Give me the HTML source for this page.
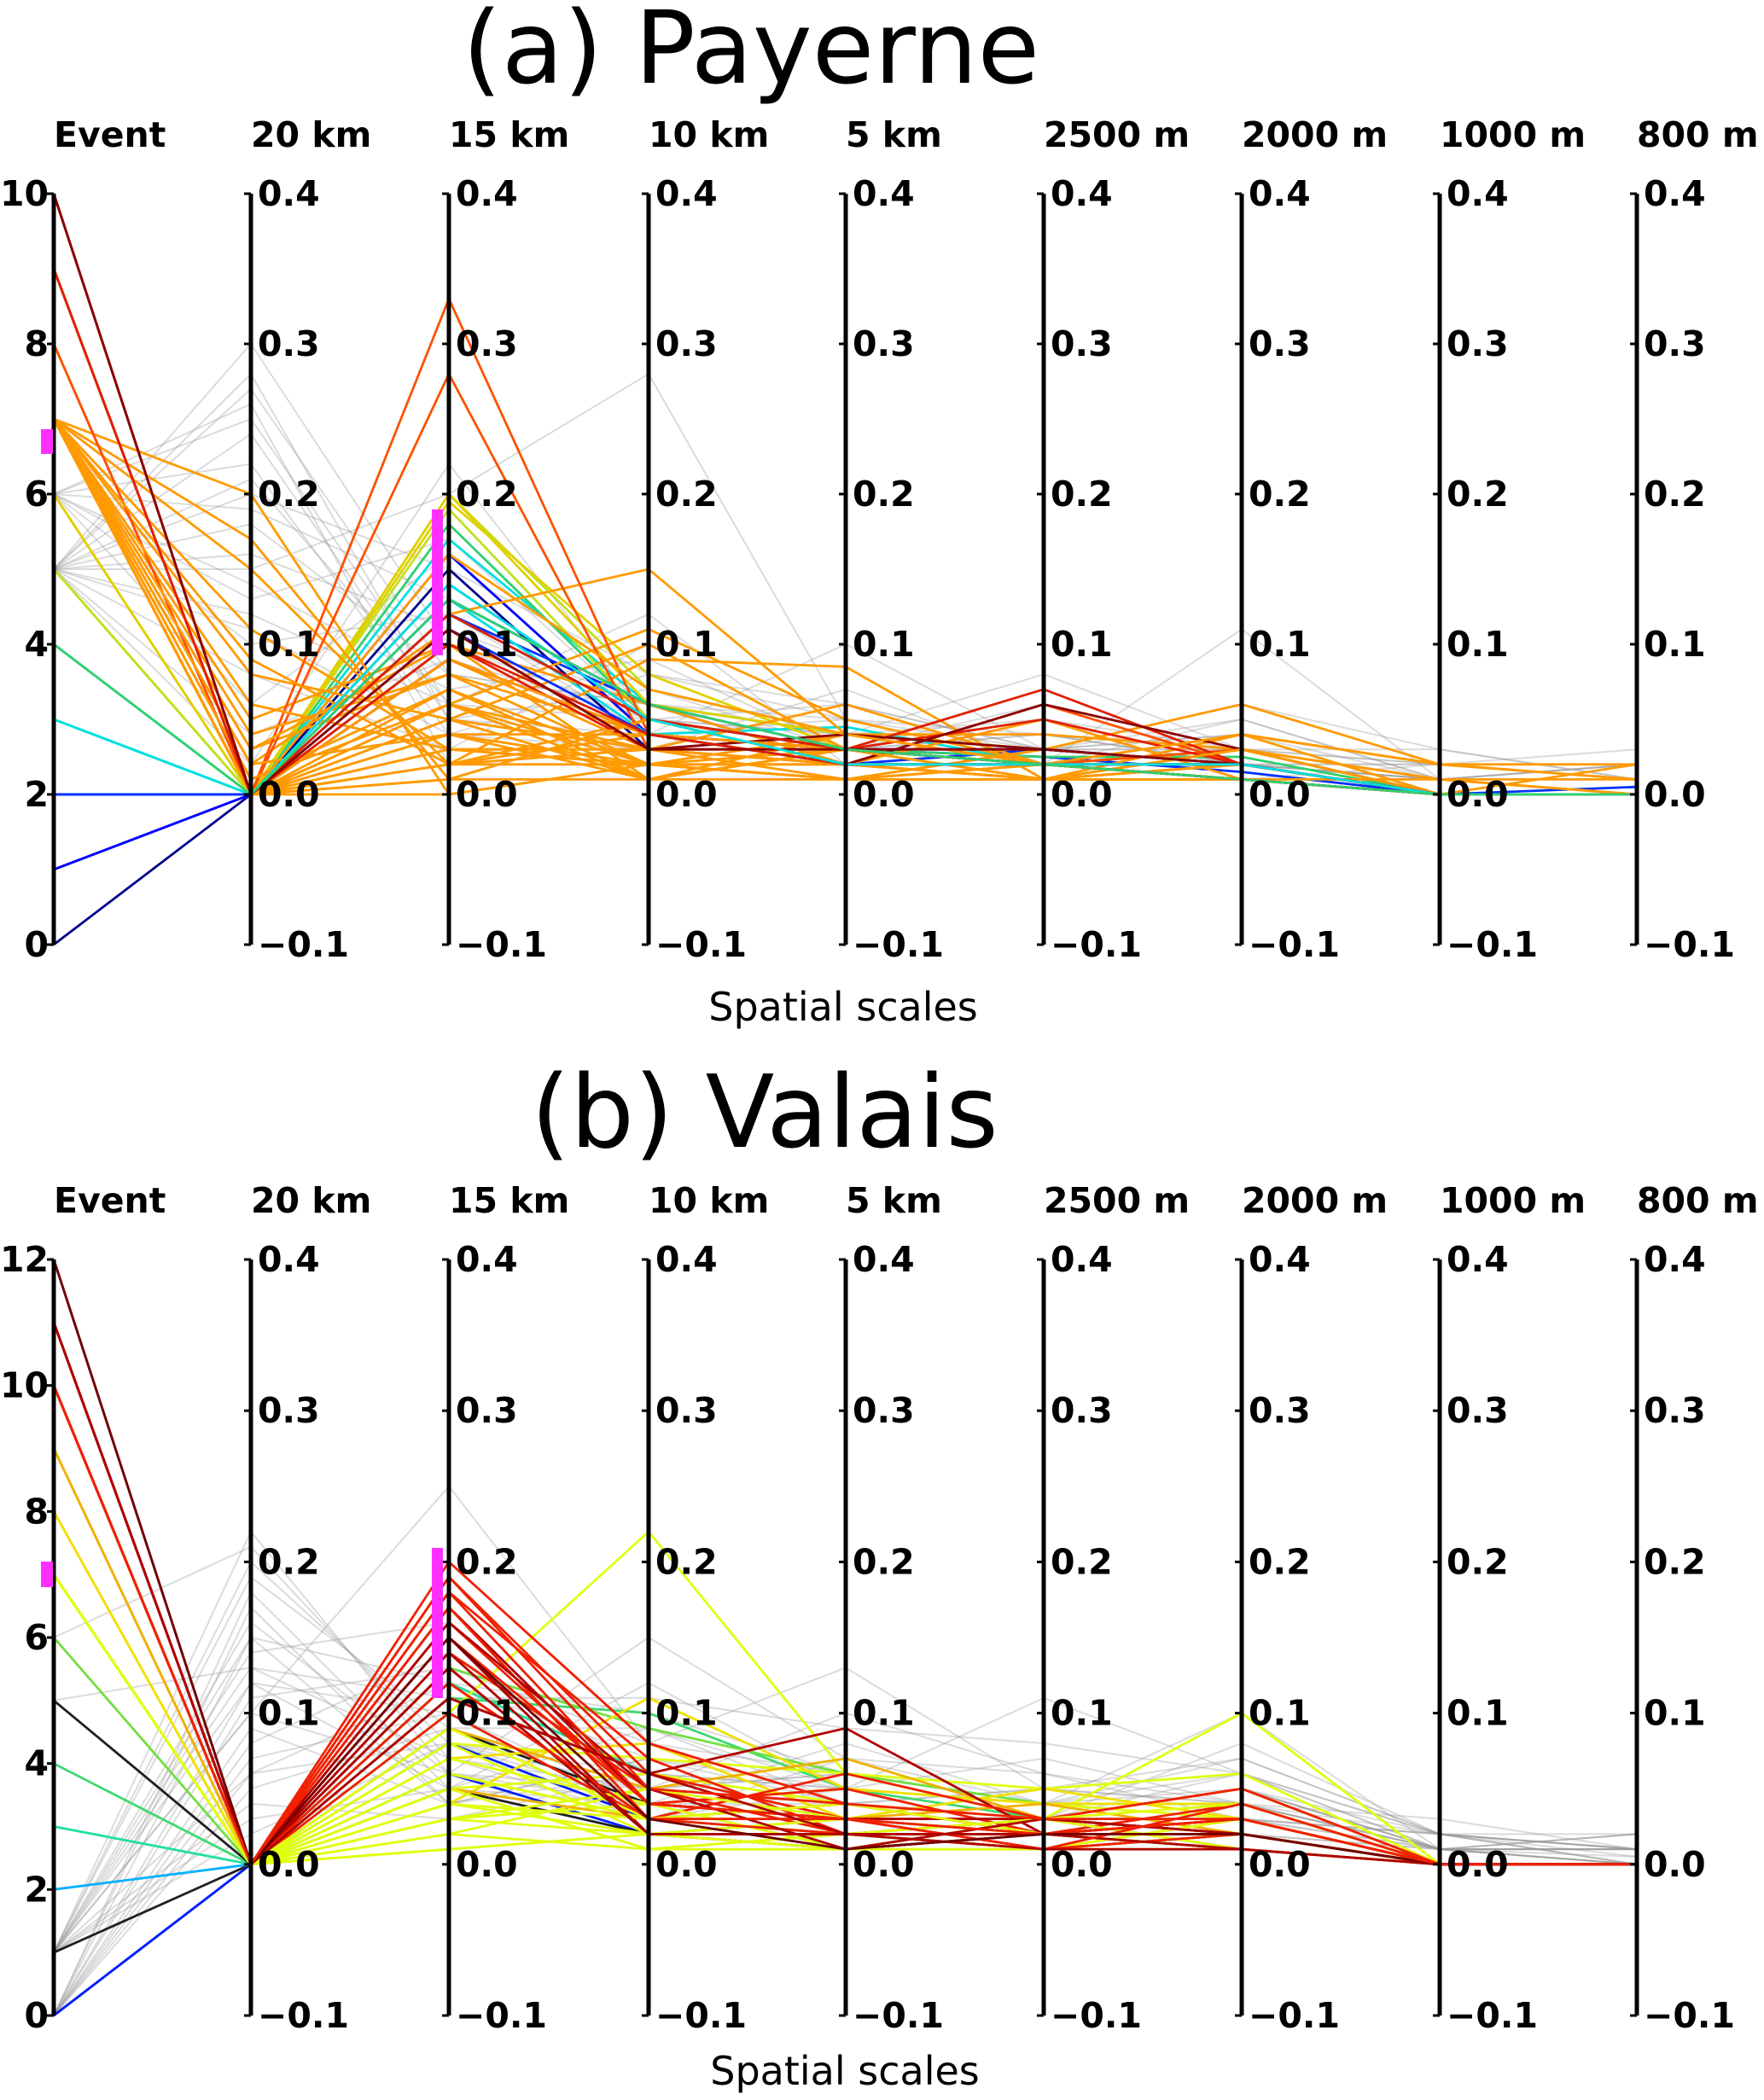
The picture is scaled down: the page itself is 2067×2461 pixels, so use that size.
<!DOCTYPE html>
<html><head><meta charset="utf-8">
<style>
html,body{margin:0;padding:0;background:#fff;}
svg{display:block;}
text{font-family:"DejaVu Sans","Liberation Sans",sans-serif;}
.tk{font-weight:bold;font-size:41px;fill:#000;}
.hd{font-weight:bold;font-size:41px;fill:#000;}
</style></head>
<body>
<svg id="chart" width="2067" height="2461" viewBox="0 0 2067 2461" xmlns="http://www.w3.org/2000/svg">
<text x="880" y="97" font-size="118" text-anchor="middle">(a) Payerne</text>
<text x="896" y="1344" font-size="118" text-anchor="middle">(b) Valais</text>
<text x="988" y="1196" font-size="46" text-anchor="middle">Spatial scales</text>
<text x="990" y="2443" font-size="46" text-anchor="middle">Spatial scales</text>
<g id="panelA"></g>
<g id="panelB"></g>
</svg>
<script>
// ---------- shared ----------
const scales = ["Event","20 km","15 km","10 km","5 km","2500 m","2000 m","1000 m","800 m"];
const valueTicks = [0.4,0.3,0.2,0.1,0.0,-0.1];
const eventTicksA = [0,2,4,6,8,10];
const eventTicksB = [0,2,4,6,8,10,12];

// ---------- Panel A (Payerne) colored lines ----------
const evA   = [0,1,2,2,3,3,4,5,5,6,6,7,7,7,7,7,7,7,7,7,7,7,7,7,7,7,7,7,8,8,9,9,10,10,7,7,
               7,7,7,7,7,7,7,7,7,7,7,7,7,7,7,7, 2,2,1,9,9,10,3,4];
const k20A  = [0,0,0,0,0,0,0,0,0,0,0,.20,.15,.11,.08,.05,.03,.02,.01,0,0,0,0,0,0,.17,0,0,0,0,0,0,0,0,0,.09,
               0,0,.01,0,.02,0,0,.04,0,0,.06,0,0,.03,0,0, 0,0,0,0,0,0,0,0];
const k15A  = [.15,.16,.14,.12,.17,.13,.18,.19,.20,.20,.195,0,.02,.03,.05,.10,.08,.11,.06,.04,.09,.03,.02,.12,0,.01,.06,.01,.33,.28,.10,.09,.09,.11,.16,.02,
               .03,.05,.07,.09,.04,.02,.06,.08,.01,.05,.03,.07,.04,.10,.02,.06, .12,.11,.13,.10,.12,.11,.14,.13];
const k10A  = [.03,.04,.05,.06,.06,.04,.05,.05,.07,.06,.08,.02,.09,.03,.10,.06,.04,.03,.02,.01,.03,.02,.05,.15,.02,.01,.11,.05,.04,.03,.03,.04,.04,.03,.07,.04,
               .02,.03,.01,.04,.02,.03,.01,.02,.05,.01,.03,.02,.04,.01,.02,.03, .05,.04,.06,.04,.05,.03,.05,.06];
const k5A   = [.02,.03,.03,.02,.04,.045,.03,.03,.04,.04,.03,.01,.085,.02,.03,.02,.03,.06,.04,.03,.02,.01,.03,.04,.02,.04,.05,.02,.03,.02,.03,.03,.02,.04,.04,.03,
               .01,.02,.03,.02,.01,.02,.03,.01,.02,.03,.01,.02,.02,.01,.03,.02, .03,.02,.03,.02,.03,.03,.02,.03];
const m2500A= [.02,.02,.025,.03,.03,.02,.025,.02,.02,.03,.02,.01,.01,.01,.02,.01,.02,.02,.03,.01,.05,.02,.02,.02,.01,.04,.02,.01,.02,.06,.07,.05,.06,.03,.02,.02,
               .02,.01,.02,.01,.03,.01,.02,.02,.01,.02,.03,.01,.02,.01,.01,.02, .02,.02,.03,.02,.02,.03,.02,.02];
const m2000A= [.01,.02,.015,.02,.02,.03,.025,.02,.03,.02,.01,.02,.04,.03,.02,.03,.01,.02,.06,.02,.01,.03,.04,.02,.01,.03,.01,.03,.03,.02,.02,.02,.03,.02,.01,.04,
               .01,.02,.01,.03,.02,.01,.02,.01,.02,.01,.02,.03,.01,.02,.01,.02, .02,.01,.02,.02,.01,.02,.02,.01];
const m1000A= [0,0,0,0,0,0,0,0,0,0,0,0,.02,0,0,0,0,0,.02,0,0,.01,0,0,0,0,0,.01,0,0,0,0,0,0,.01,.02,
               0,0,0,0,0,0,0,0,0,0,0,0,0,0,0,0, 0,0,0,0,0,0,0,0];
const m800A = [0,0,0,.005,0,0,0,0,0,0,0,0,.01,0,0,0,0,0,.01,0,.02,0,0,0,0,0,0,.01,0,0,0,0,0,0,0,.02,
               0,0,0,0,0,0,0,0,0,0,0,0,0,0,0,0, 0,0,0,0,0,0,0,0];
// grey background lines A
const gEvA   = [5,6,5,6,5,5,6,5,5,6,5,5,6,5,5,6, 5,6,5,5,6,5];
const gK20A  = [.30,.25,.20,.22,.18,.15,.10,.28,.12,.06,.08,.04,.26,.16,.02,.14, .24,.19,.27,.11,.13,.21];
const gK15A  = [.10,.06,.15,.04,.08,.20,.12,.05,.06,.16,.03,.09,.02,.11,.22,.07, .05,.13,.08,.04,.17,.06];
const gK10A  = [.05,.12,.08,.03,.06,.28,.04,.04,.05,.07,.10,.05,.03,.06,.05,.09, .07,.04,.06,.08,.05,.03];
const gK5A   = [.03,.02,.05,.07,.04,.05,.10,.03,.04,.03,.03,.06,.02,.05,.04,.03, .04,.05,.03,.06,.02,.04];
const gM2500A= [.04,.03,.02,.02,.08,.02,.03,.02,.05,.02,.04,.03,.02,.03,.03,.06, .03,.04,.02,.03,.05,.02];
const gM2000A= [.02,.06,.03,.02,.03,.03,.04,.11,.03,.02,.02,.04,.01,.02,.05,.02, .03,.02,.04,.03,.02,.05];
const gM1000A= [.01,.03,.01,0,.02,.01,.02,.01,.02,.01,.01,0,.02,.01,.01,.02, .01,.02,.01,.03,.01,.01];
const gM800A = [0,.01,.02,0,.03,0,.01,0,.01,0,.02,0,.01,0,0,.01, .02,.01,0,.01,.02,0];

// ---------- Panel B (Valais) colored lines ----------
const evB   = [0,0,1,2,3,4,5,6,7,7,7,7,7,7,7,8,8,9,9,10,10,10,10,10,11,11,11,12,10,10,
               7,7,7,7,7,7,7,7,7,7,7,7, 10,10,11,11,10,11,10,11,12,10];
const k20B  = [0,0,0,0,0,0,0,0,0,0,0,0,0,0,0,0,0,0,0,0,0,0,0,0,0,0,0,0,0,0,
               0,0,0,0,0,0,0,0,0,0,0,0, 0,0,0,0,0,0,0,0,0,0];
const k15B  = [.08,.06,.05,.10,.12,.11,.09,.13,.10,.05,.03,.01,.08,.02,.06,.04,.07,.09,.05,.19,.16,.14,.12,.18,.15,.17,.11,.13,.10,.20,
               .02,.04,.06,.03,.07,.05,.09,.01,.03,.05,.08,.04, .17,.15,.13,.16,.12,.14,.18,.11,.15,.19];
const k10B  = [.03,.02,.02,.03,.06,.10,.04,.09,.22,.06,.04,.02,.07,.05,.03,.11,.08,.05,.03,.06,.04,.05,.03,.07,.02,.04,.06,.02,.03,.08,
               .01,.02,.03,.02,.04,.01,.03,.02,.05,.01,.02,.03, .03,.04,.02,.05,.03,.02,.04,.06,.03,.05];
const k5B   = [.02,.03,.01,.02,.03,.05,.03,.06,.06,.04,.05,.03,.06,.02,.04,.05,.03,.07,.03,.03,.05,.02,.04,.02,.01,.03,.09,.02,.06,.04,
               .01,.02,.02,.03,.01,.02,.04,.01,.03,.02,.01,.02, .02,.03,.02,.01,.03,.02,.03,.02,.01,.04];
const m2500B= [.01,.02,.02,.02,.02,.03,.02,.04,.03,.03,.04,.02,.05,.03,.02,.04,.05,.03,.04,.03,.02,.03,.02,.01,.02,.03,.02,.01,.03,.02,
               .01,.02,.01,.02,.03,.01,.02,.01,.02,.03,.01,.02, .02,.01,.02,.03,.01,.02,.02,.01,.02,.03];
const m2000B= [.02,.01,.01,.01,.02,.03,.02,.04,.02,.10,.03,.02,.06,.04,.03,.04,.03,.05,.02,.02,.03,.01,.04,.02,.01,.02,.03,.02,.05,.03,
               .02,.01,.03,.02,.01,.03,.02,.01,.02,.04,.02,.01, .03,.02,.01,.02,.04,.02,.03,.01,.02,.03];
const m1000B= [0,0,0,0,0,0,0,0,0,0,0,0,0,0,0,0,0,0,0,0,0,0,0,0,0,0,0,0,0,0,
               0,0,0,0,0,0,0,0,0,0,0,0, 0,0,0,0,0,0,0,0,0,0];
const m800B = [0,0,0,0,0,0,0,0,0,0,0,0,0,0,0,0,0,0,0,0,0,0,0,0,0,0,0,0,0,0,
               0,0,0,0,0,0,0,0,0,0,0,0, 0,0,0,0,0,0,0,0,0,0];
const gEvB   = [1,0,1,0,1,0,1,0,1,0,6,5,1,1,0,1, 1,0,1,0,1,0,1,1,0,1];
const gK20B  = [.20,.15,.10,.18,.12,.08,.22,.05,.14,.17,.21,.13,.06,.03,.11,.19, .16,.09,.13,.07,.04,.12,.02,.10,.06,.15];
const gK15B  = [.08,.12,.25,.05,.10,.14,.06,.09,.16,.04,.07,.11,.08,.05,.13,.09, .06,.04,.07,.10,.03,.05,.08,.06,.12,.04];
const gK10B  = [.05,.10,.08,.12,.04,.06,.15,.09,.05,.07,.03,.11,.06,.04,.08,.05, .04,.07,.05,.03,.06,.09,.04,.05,.07,.06];
const gK5B   = [.04,.06,.13,.05,.08,.05,.07,.04,.10,.06,.05,.09,.05,.03,.06,.04, .05,.04,.06,.07,.03,.05,.04,.06,.05,.03];
const gM2500B= [.03,.03,.05,.11,.04,.07,.04,.03,.06,.05,.03,.08,.04,.02,.05,.03, .04,.05,.03,.06,.04,.03,.05,.04,.03,.05];
const gM2000B= [.05,.04,.03,.06,.10,.04,.05,.08,.03,.07,.02,.06,.03,.02,.04,.05, .06,.03,.05,.04,.07,.05,.03,.04,.06,.04];
const gM1000B= [.01,.02,.01,.02,.01,.03,.01,.02,.01,.02,.01,.01,.02,.01,.01,.02, .01,.02,.01,.01,.02,.01,.02,.01,.02,.01];
const gM800B = [.005,.01,0,.01,.02,.01,0,.01,.02,0,0,.01,.01,0,.01,.005, .01,0,.01,.02,0,.01,.01,0,.02,.01];

const colorsA = ["#00008b","#0000ff","#0030ff","#00e0e0","#30d070","#c0e020","#e0d000","#ff9a00","#ff5000","#e02000","#8b0000"];
const colorsB = ["#0020ff","#202020","#00b0ff","#20e0a0","#40d870","#202020","#70e040","#e0ff10","#f0e000","#f0b000","#f02000","#b00000","#700000"];

const axisX = [63,294,526,760,991,1223,1455,1687,1918];
const NS = "http://www.w3.org/2000/svg";

function mk(tag, attrs, parent){
  const e = document.createElementNS(NS, tag);
  for (const k in attrs) e.setAttribute(k, attrs[k]);
  parent.appendChild(e);
  return e;
}

function drawPanel(g, top, bot, evMax, evTicks, colored, grey, colors, marks){
  const yV = v => top + (0.4 - v) / 0.5 * (bot - top);
  const yE = v => bot - v / evMax * (bot - top);
  function pts(arrs, i){
    return arrs.map((a, j) => axisX[j] + "," + (j === 0 ? yE(a[i]) : yV(a[i])).toFixed(1)).join(" ");
  }
  for (let i = 0; i < grey[0].length; i++){
    const p = mk("polyline", {points: pts(grey, i), fill: "none", stroke: "#999", "stroke-opacity": "0.35", "stroke-width": "2"}, g);
    
    
  }
  for (let i = 0; i < colored[0].length; i++){
    const p = mk("polyline", {points: pts(colored, i), fill: "none", stroke: colors[colored[0][i]], "stroke-width": "2.8"}, g);
    
    
  }
  for (let j = 0; j < axisX.length; j++){
    const x = axisX[j];
    const ax = mk("line", {x1: x, y1: top, x2: x, y2: bot, stroke: "#000", "stroke-width": "5"}, g);
    
    
    const h = mk("text", {x: x, y: top - 55, class: "hd"}, g);
    h.textContent = scales[j];
    
    
    if (j === 0){
      evTicks.forEach(t => {
        const y = yE(t);
        mk("line", {x1: x - 8, y1: y, x2: x, y2: y, stroke: "#000", "stroke-width": "3"}, g);
        const tx = mk("text", {x: x - 6, y: y + 14, class: "tk", "text-anchor": "end"}, g);
        tx.textContent = String(t);
        
        
      });
    } else {
      valueTicks.forEach(t => {
        const y = yV(t);
        mk("line", {x1: x - 8, y1: y, x2: x, y2: y, stroke: "#000", "stroke-width": "3"}, g);
        const tx = mk("text", {x: x + 8, y: y + 14, class: "tk"}, g);
        tx.textContent = t < 0 ? "\u2212" + Math.abs(t).toFixed(1) : t.toFixed(1);
        
        
      });
    }
  }
  marks.forEach(m => {
    const r = mk("rect", {x: m[0], y: m[1], width: m[2], height: m[3], fill: "#ff30ff"}, g);
    
    
  });
}

drawPanel(document.getElementById("panelA"), 227, 1107, 10, eventTicksA,
  [evA,k20A,k15A,k10A,k5A,m2500A,m2000A,m1000A,m800A],
  [gEvA,gK20A,gK15A,gK10A,gK5A,gM2500A,gM2000A,gM1000A,gM800A],
  colorsA, [[48,503,14,29],[506,597,13,171]]);
drawPanel(document.getElementById("panelB"), 1476, 2362, 12, eventTicksB,
  [evB,k20B,k15B,k10B,k5B,m2500B,m2000B,m1000B,m800B],
  [gEvB,gK20B,gK15B,gK10B,gK5B,gM2500B,gM2000B,gM1000B,gM800B],
  colorsB, [[48,1830,14,30],[506,1814,13,176]]);
</script>
</body></html>
